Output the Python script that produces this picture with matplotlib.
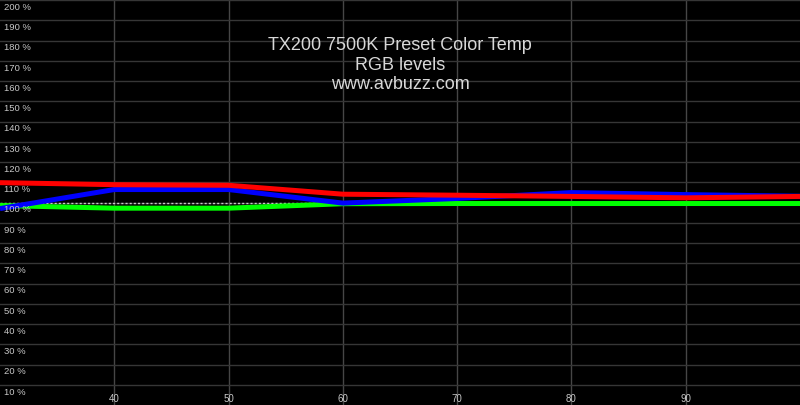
#!/usr/bin/python
'''
plot.py - RGB levels for the TX200 7500K preset colour temp
'''

# other
import matplotlib
matplotlib.use('Agg')
import matplotlib.pyplot as plt
from matplotlib import transforms

# data (percent of stimulus vs. level)
stimulus = [30, 40, 50, 60, 70, 80, 90, 100]
red   = [109.8, 108.8, 108.5, 104.1, 103.6, 103.0, 102.3, 103.0]
green = [98.5, 97.2, 97.2, 99.4, 99.5, 99.5, 99.5, 99.5]
blue  = [97.0, 106.4, 106.4, 99.7, 102.0, 104.9, 103.9, 103.1]

xticks = [40, 50, 60, 70, 80, 90]
yticks = list(range(10, 201, 10))
titletext = 'TX200 7500K Preset Color Temp\nRGB levels\nwww.avbuzz.com'

#----------------------------------------------------------------------
def main():
#----------------------------------------------------------------------

    fig = plt.figure(figsize=(8, 4.05), dpi=100, facecolor='black')
    ax = fig.add_axes([0, 0, 1, 1])
    ax.set_facecolor('black')
    for s in ax.spines.values():
        s.set_visible(False)

    ax.set_xlim(30, 100)
    ax.set_ylim(0, 200)

    # grid
    for x in xticks:
        ax.axvline(x, color='#464646', linewidth=1, zorder=1)
    for y in yticks:
        ax.axhline(y, color='#363636', linewidth=1, zorder=1)

    # reference line at 100 %
    ax.axhline(100, color='#c8c8c8', linewidth=1, linestyle=(0, (1.5, 1.5)), zorder=2)

    # rgb lines
    lw = 3.6
    ax.plot(stimulus, green, color='#00ff00', linewidth=lw, zorder=3, solid_capstyle='butt')
    ax.plot(stimulus, blue, color='#0000ff', linewidth=lw, zorder=4, solid_capstyle='butt')
    ax.plot(stimulus, red, color='#ff0000', linewidth=lw, zorder=5, solid_capstyle='butt')

    # axis labels drawn inside the plot
    ax.set_xticks([])
    ax.set_yticks([])
    labelcolor = '#c8c8c8'
    ylab = transforms.blended_transform_factory(ax.transAxes, ax.transData)
    ylab = ylab + transforms.ScaledTranslation(3/72., -2/72., fig.dpi_scale_trans)
    for y in yticks:
        ax.text(0, y, '{0} %'.format(y), transform=ylab, ha='left', va='top',
                fontsize=6.8, color=labelcolor, family='Liberation Sans', zorder=6)
    xlab = transforms.blended_transform_factory(ax.transData, ax.transAxes)
    xlab = xlab + transforms.ScaledTranslation(0, 1/72., fig.dpi_scale_trans)
    for x in xticks:
        ax.text(x, 0, str(x), transform=xlab, ha='center', va='bottom',
                fontsize=7, color=labelcolor, family='Liberation Sans', zorder=6)

    # title
    ax.text(0.5, 0.908, titletext, transform=ax.transAxes, ha='center', va='top',
            fontsize=13, color='#d8d8d8', family='Liberation Sans', linespacing=1.2, zorder=6)

    fig.savefig('out.png', format='png', facecolor='black')


# ###############################################################################
if __name__ == "__main__":
    main()
